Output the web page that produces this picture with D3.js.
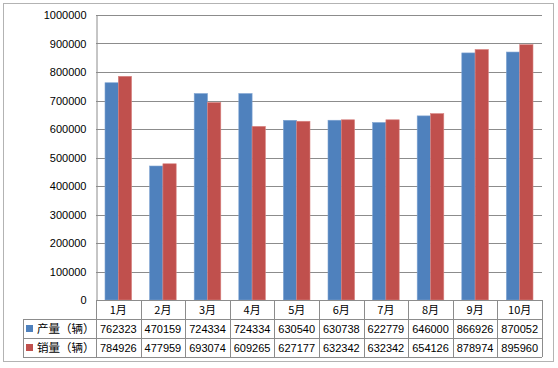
<!DOCTYPE html>
<html>
  <head>
    <meta charset="utf-8">
    <title>产销量</title>
    <script src="https://d3js.org/d3.v7.min.js"></script>
    <style>
      body { margin: 0; background: #fff; }
      text { font-family: "Liberation Sans", Arial, "Noto Sans CJK SC", sans-serif; font-size: 11px; fill: #000; }
      .cjk { font-family: "Noto Sans CJK SC", sans-serif; }
    </style>
  </head>
  <body>
    <svg id="chart" width="558" height="368"></svg>
    <script>
      // chart data
      months = ["1月", "2月", "3月", "4月", "5月", "6月", "7月", "8月", "9月", "10月"];
      seriesNames = ["产量（辆）", "销量（辆）"];
      production = [762323, 470159, 724334, 724334, 630540, 630738, 622779, 646000, 866926, 870052];
      sales = [784926, 477959, 693074, 609265, 627177, 632342, 632342, 654126, 878974, 895960];
      yTicks = [0, 100000, 200000, 300000, 400000, 500000, 600000, 700000, 800000, 900000, 1000000];
      colors = ["#4f81bd", "#c0504d"];
      edges = ["#7fa3d1", "#d98583"];

      series = [production, sales];
      svg = d3.select("#chart");
      left = 96; right = 542; top0 = 15; bottom = 300;
      rowH = 19;

      // outer border
      svg.append("rect")
        .attr("x", 3.5).attr("y", 3.5)
        .attr("width", 550).attr("height", 358)
        .attr("fill", "#fff")
        .attr("stroke", "#b3b3b3");

      x = d3.scaleBand()
        .domain(months)
        .range([left, right]);
      y = d3.scaleLinear()
        .domain([0, 1000000])
        .range([bottom, top0]);

      // gridlines
      svg.append("g")
        .selectAll("line")
          .data(yTicks.slice(1))
        .enter().append("line")
          .attr("x1", left).attr("x2", right)
          .attr("y1", function(d) { return Math.round(y(d)) + 0.5; })
          .attr("y2", function(d) { return Math.round(y(d)) + 0.5; })
          .attr("stroke", "#8c8c8c");

      // y axis
      yAxis = svg.append("g")
        .attr("transform", "translate(" + (left + 0.5) + ",0)")
        .call(d3.axisLeft(y).tickValues(yTicks).tickSize(0).tickPadding(10).tickFormat(d3.format("d")));
      yAxis.select(".domain").attr("stroke", "#8c8c8c");
      yAxis.selectAll("text").style("font-size", "11px").attr("fill", "#000");

      // bars
      barW = 13.3;
      groupOff = (x.bandwidth() - barW * 2) / 2;
      series.forEach(function(vals, s) {
        svg.append("g")
          .selectAll("rect")
            .data(vals)
          .enter().append("rect")
            .attr("x", function(d, i) { return x(months[i]) + groupOff + s * barW; })
            .attr("y", function(d) { return y(d); })
            .attr("width", barW)
            .attr("height", function(d) { return bottom - y(d); })
            .attr("fill", colors[s])
            .attr("stroke", edges[s])
            .attr("stroke-width", 0.6);
      });

      // data table
      table = svg.append("g");
      lineColor = "#8c8c8c";
      tableLeft = 23;
      // horizontal lines
      [bottom, bottom + rowH, bottom + rowH * 2, bottom + rowH * 3].forEach(function(yy, i) {
        table.append("line")
          .attr("x1", i == 0 ? left : tableLeft).attr("x2", right)
          .attr("y1", yy + 0.5).attr("y2", yy + 0.5)
          .attr("stroke", lineColor);
      });
      // vertical lines
      months.forEach(function(m) {
        table.append("line")
          .attr("x1", Math.round(x(m)) + 0.5).attr("x2", Math.round(x(m)) + 0.5)
          .attr("y1", bottom).attr("y2", bottom + rowH * 3)
          .attr("stroke", lineColor);
      });
      table.append("line")
        .attr("x1", right + 0.5).attr("x2", right + 0.5)
        .attr("y1", bottom).attr("y2", bottom + rowH * 3)
        .attr("stroke", lineColor);
      table.append("line")
        .attr("x1", tableLeft + 0.5).attr("x2", tableLeft + 0.5)
        .attr("y1", bottom + rowH).attr("y2", bottom + rowH * 3)
        .attr("stroke", lineColor);

      // month labels
      table.selectAll(".month")
          .data(months)
        .enter().append("text")
          .classed("cjk", true)
          .attr("x", function(d) { return x(d) + x.bandwidth() / 2; })
          .attr("y", bottom + rowH / 2 + 4)
          .attr("text-anchor", "middle")
          .text(function(d) { return d; });

      // rows
      series.forEach(function(vals, s) {
        rowY = bottom + rowH * (s + 1);
        table.append("rect")
          .attr("x", 26).attr("y", rowY + 6)
          .attr("width", 7).attr("height", 7)
          .attr("fill", colors[s]);
        table.append("text")
          .classed("cjk", true)
          .attr("x", 37)
          .attr("y", rowY + rowH / 2 + 4)
          .style("font-size", "11.5px")
          .text(seriesNames[s]);
        table.selectAll(".v" + s)
            .data(vals)
          .enter().append("text")
            .attr("x", function(d, i) { return x(months[i]) + x.bandwidth() / 2; })
            .attr("y", rowY + rowH / 2 + 4)
            .attr("text-anchor", "middle")
            .text(function(d) { return d; });
      });
    </script>
  </body>
</html>
